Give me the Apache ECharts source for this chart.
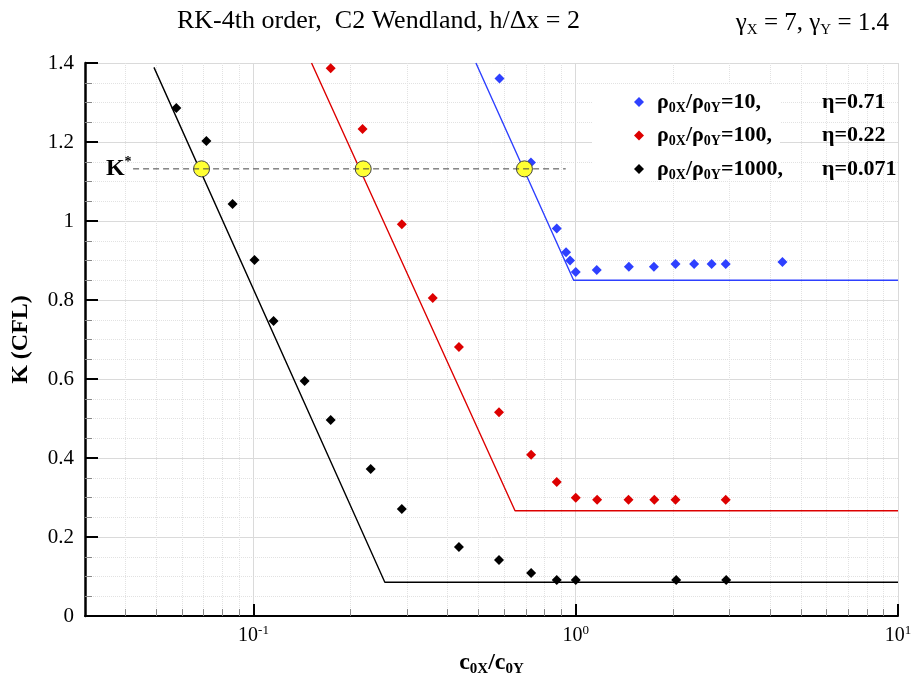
<!DOCTYPE html>
<html>
<head>
<meta charset="utf-8">
<script src="https://cdn.jsdelivr.net/npm/echarts@6/dist/echarts.min.js"></script>
<style>
  html, body { margin: 0; padding: 0; background: #fff; }
  #chart { width: 911px; height: 677px; }
</style>
</head>
<body>
<div id="chart"></div>
<script>
// Measured stability limits K (CFL) against c0X/c0Y for three density ratios
const ratio10X   = [0.580, 0.726, 0.873, 0.933, 0.960, 1.0, 1.162, 1.462, 1.748, 2.04, 2.33, 2.64, 2.92, 4.38];
const ratio10K   = [1.361, 1.148, 0.981, 0.921, 0.900, 0.871, 0.876, 0.884, 0.884, 0.891, 0.891, 0.891, 0.891, 0.896];
const ratio100X  = [0.1736, 0.218, 0.2886, 0.360, 0.434, 0.578, 0.727, 0.873, 1.0, 1.165, 1.458, 1.753, 2.04, 2.92];
const ratio100K  = [1.387, 1.233, 0.992, 0.805, 0.681, 0.516, 0.408, 0.339, 0.2995, 0.294, 0.294, 0.294, 0.294, 0.294];
const ratio1000X = [0.0576, 0.0714, 0.0861, 0.1007, 0.1154, 0.1441, 0.1736, 0.231, 0.2886, 0.434, 0.578, 0.727, 0.873, 1.0, 2.05, 2.93];
const ratio1000K = [1.286, 1.2025, 1.043, 0.901, 0.747, 0.595, 0.496, 0.372, 0.271, 0.175, 0.142, 0.109, 0.091, 0.091, 0.091, 0.091];

// Predicted limit curves (sloped branch, then constant plateau)
const model10X   = [0.490, 0.985, 10];
const model10K   = [1.4, 0.85, 0.85];
const model100X  = [0.1514, 0.648, 10];
const model100K  = [1.4, 0.2666, 0.2666];
const model1000X = [0.0491, 0.2556, 10];
const model1000K = [1.389, 0.0853, 0.0853];

// K* reference level and its crossings
const kStar = 1.132;
const kStarCrossX = [0.069, 0.219, 0.693];
const kStarLineX = [0.0423, 0.931];

// Legend texts
const legendRatio = ['10', '100', '1000'];
const legendEta = ['0.71', '0.22', '0.071'];

// Axis ranges and tick labels
const xMin = 0.03, xMax = 10;
const xMajorExp = [-1, 0, 1];
const yMin = 0, yMax = 1.4, yStep = 0.2;

const BLUE = '#2e40ff', RED = '#dd0000', BLACK = '#000000';
const SERIF = '"Liberation Serif", "Times New Roman", serif';

const lg = Math.log10;
const pairs = (xs, ys) => xs.map((x, i) => [lg(x), ys[i]]);

// minor ticks at 2..9 x 10^k inside the visible range
const xMinor = [];
for (let k = -2; k <= 0; k++) {
  for (let m = 2; m <= 9; m++) {
    const v = lg(m * Math.pow(10, k));
    if (v > lg(xMin) && v < lg(xMax)) xMinor.push(v);
  }
}

// legend: align the eta column by measuring the ratio part
const ctx = document.createElement('canvas').getContext('2d');
const measure = (t, font) => { ctx.font = font; return ctx.measureText(t).width; };
const MAIN_FONT = 'bold 22px ' + SERIF;
const SUB_FONT = 'bold 14px ' + SERIF;
const etaColumn = 165;
const gapWidths = legendRatio.map(r => {
  const w = measure('ρ', MAIN_FONT) + measure('/ρ', MAIN_FONT) + measure('=' + r + ',', MAIN_FONT)
          + measure('0X', SUB_FONT) + measure('0Y', SUB_FONT);
  return Math.max(4, etaColumn - w);
});
const legendNames = legendRatio.map(r => 'ρ0X/ρ0Y=' + r);
const legendRich = {
  r: { fontFamily: SERIF, fontWeight: 'bold', fontSize: 22, lineHeight: 26, color: '#000' },
  s: { fontFamily: SERIF, fontWeight: 'bold', fontSize: 14, lineHeight: 14, verticalAlign: 'bottom', color: '#000' }
};
gapWidths.forEach((w, i) => {
  legendRich['g' + i] = { width: w, fontSize: 22, lineHeight: 26 };
});

const chart = echarts.init(document.getElementById('chart'), null, { renderer: 'canvas' });

const scatterSeries = (name, xs, ys, color) => ({
  name, type: 'scatter', data: pairs(xs, ys),
  symbol: 'diamond', symbolSize: 10,
  itemStyle: { color, opacity: 1 }, z: 3
});
const modelSeries = (xs, ys, color) => ({
  type: 'line', data: pairs(xs, ys), showSymbol: false, symbol: 'none',
  lineStyle: { color, width: 1.4 }, z: 2, silent: true
});

chart.setOption({
  animation: false,
  backgroundColor: '#fff',
  title: [
    {
      text: 'RK-4th order,  C2 Wendland, h/Δx = 2',
      left: 172, top: 3,
      textStyle: { fontFamily: SERIF, fontWeight: 'normal', fontSize: 26, color: '#000' }
    },
    {
      text: '{g|γ}{s|X}{g| = 7, γ}{s|Y}{g| = 1.4}',
      right: 17, top: 3,
      textStyle: {
        fontWeight: 'normal',
        rich: {
          g: { fontFamily: SERIF, fontWeight: 'normal', fontSize: 25, lineHeight: 30, color: '#000' },
          s: { fontFamily: SERIF, fontWeight: 'normal', fontSize: 15, lineHeight: 15, verticalAlign: 'bottom', color: '#000' }
        }
      }
    }
  ],
  grid: { left: 85, right: 13, top: 63, bottom: 61, outerBoundsMode: 'none', containLabel: false },
  graphic: [
    // white panel behind the left part of the legend
    { type: 'rect', z: 1, silent: true, shape: { x: 592, y: 84, width: 188, height: 94 }, style: { fill: '#fff' } }
  ],
  legend: {
    data: legendNames,
    orient: 'vertical',
    left: 630, top: 89,
    itemWidth: 10, itemHeight: 10, itemGap: 9.5,
    icon: 'diamond',
    padding: [2, 4, 2, 4],
    textStyle: { padding: [0, 0, 0, 8], rich: legendRich },
    formatter: name => {
      const i = legendNames.indexOf(name);
      return '{r|ρ}{s|0X}{r|/ρ}{s|0Y}{r|=' + legendRatio[i] + ',}{g' + i + '| }{r|η=' + legendEta[i] + '}';
    }
  },
  xAxis: [
    {
      type: 'value', min: lg(xMin), max: lg(xMax), position: 'bottom',
      axisLine: { show: true, onZero: false, lineStyle: { color: '#000', width: 2 } },
      axisTick: { show: true, inside: true, length: 12, customValues: xMajorExp, lineStyle: { color: '#000', width: 2 } },
      axisLabel: {
        show: true, customValues: xMajorExp, margin: 8,
        formatter: v => '{b|10}{p|' + Math.round(v) + '}',
        rich: {
          b: { fontFamily: SERIF, fontSize: 20, lineHeight: 24, color: '#000' },
          p: { fontFamily: SERIF, fontSize: 13, lineHeight: 13, verticalAlign: 'top', color: '#000' }
        }
      },
      splitLine: { show: true, lineStyle: { color: '#dadada', width: 1 } },
      name: '{m|c}{s|0X}{m|/c}{s|0Y}',
      nameLocation: 'middle', nameGap: 23,
      nameTextStyle: {
        rich: {
          m: { fontFamily: SERIF, fontWeight: 'bold', fontSize: 24, lineHeight: 28, color: '#000' },
          s: { fontFamily: SERIF, fontWeight: 'bold', fontSize: 15, lineHeight: 15, verticalAlign: 'bottom', color: '#000' }
        }
      }
    },
    {
      type: 'value', min: lg(xMin), max: lg(xMax), position: 'bottom',
      axisLine: { show: false },
      axisTick: { show: true, inside: true, length: 7, customValues: xMinor, lineStyle: { color: '#888', width: 1 } },
      axisLabel: { show: false },
      splitLine: { show: true, lineStyle: { color: '#e2e2e2', width: 1, type: 'dotted' } }
    }
  ],
  yAxis: {
    type: 'value', min: yMin, max: yMax, interval: yStep,
    axisLine: { show: true, onZero: false, lineStyle: { color: '#000', width: 2.5 } },
    axisTick: { show: true, inside: true, length: 13, lineStyle: { color: '#000', width: 2 } },
    minorTick: { show: true, splitNumber: 4, length: 7, lineStyle: { color: '#888', width: 1 } },
    axisLabel: {
      margin: 11, fontFamily: SERIF, fontSize: 21, color: '#000',
      formatter: v => String(Math.round(v * 10) / 10)
    },
    splitLine: { show: true, lineStyle: { color: '#dadada', width: 1 } },
    minorSplitLine: { show: true, lineStyle: { color: '#e2e2e2', width: 1, type: 'dotted' } },
    name: 'K (CFL)', nameLocation: 'middle', nameGap: 52, nameRotate: 90,
    nameTextStyle: { fontFamily: SERIF, fontWeight: 'bold', fontSize: 24, color: '#000' }
  },
  series: [
    modelSeries(model10X, model10K, BLUE),
    modelSeries(model100X, model100K, RED),
    modelSeries(model1000X, model1000K, BLACK),
    scatterSeries(legendNames[0], ratio10X, ratio10K, BLUE),
    scatterSeries(legendNames[1], ratio100X, ratio100K, RED),
    scatterSeries(legendNames[2], ratio1000X, ratio1000K, BLACK),
    {
      type: 'scatter', data: kStarCrossX.map(x => [lg(x), kStar]),
      symbol: 'circle', symbolSize: 16,
      itemStyle: { color: '#ffff33', borderColor: '#444', borderWidth: 1, opacity: 1 },
      z: 4, silent: true
    },
    {
      type: 'line', z: 5, silent: true,
      data: [
        {
          value: [lg(kStarLineX[0]), kStar],
          symbol: 'circle', symbolSize: 1,
          itemStyle: { color: 'rgba(0,0,0,0)' },
          label: {
            show: true, position: 'left', distance: 1,
            formatter: '{k|K}{a|*}',
            rich: {
              k: { fontFamily: SERIF, fontWeight: 'bold', fontSize: 24, lineHeight: 26, color: '#000' },
              a: { fontFamily: SERIF, fontWeight: 'bold', fontSize: 14, lineHeight: 14, verticalAlign: 'top', color: '#000' }
            }
          }
        },
        { value: [lg(kStarLineX[1]), kStar], symbol: 'none' }
      ],
      lineStyle: { color: '#444', width: 1, type: [6, 4] }
    }
  ]
});
</script>
</body>
</html>
